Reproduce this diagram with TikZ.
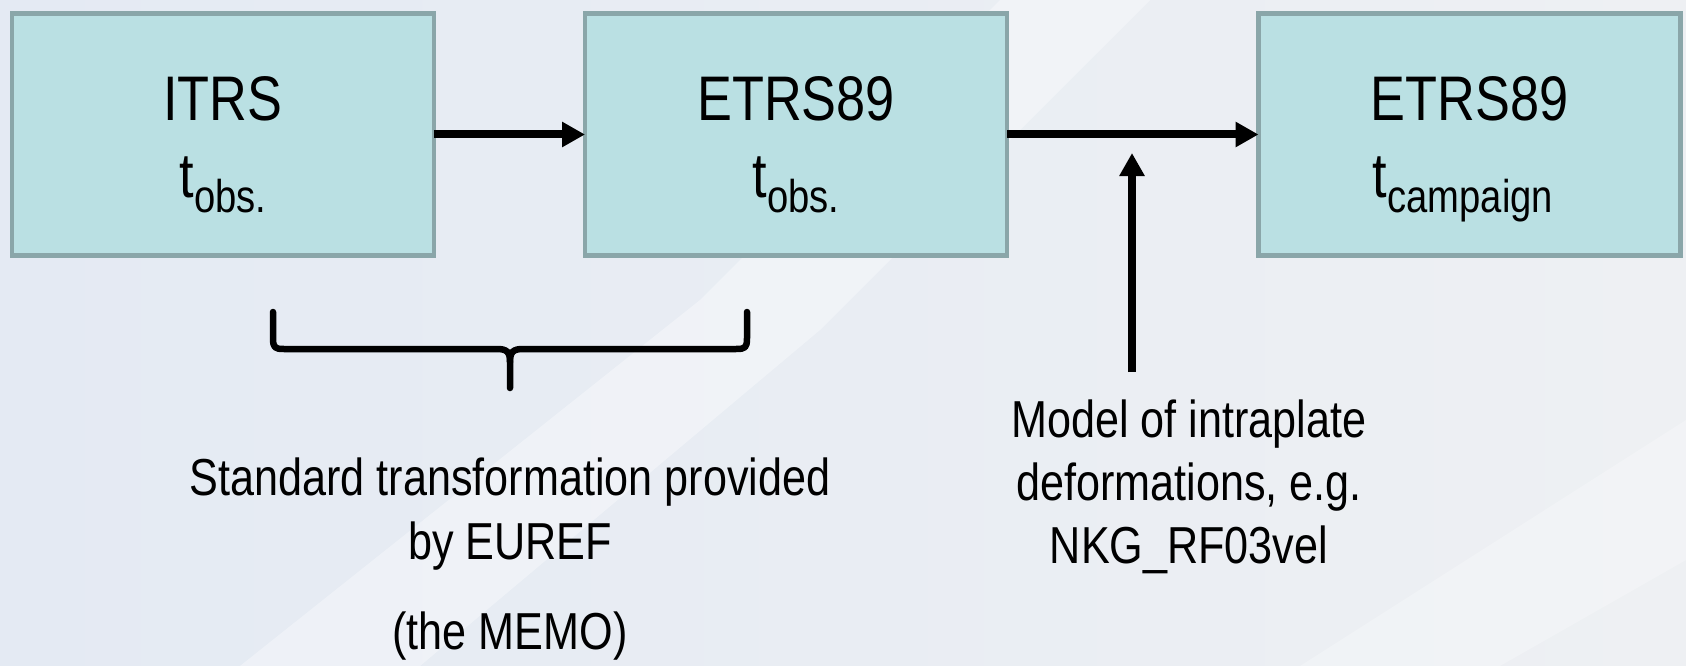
\documentclass[tikz,border=0pt]{standalone}
\usepackage{fontspec}
\setmainfont{Liberation Sans}[FakeStretch=0.83]
\usetikzlibrary{arrows.meta}
\definecolor{boxfill}{RGB}{186,224,227}
\definecolor{boxline}{RGB}{138,166,169}
\definecolor{bgleft}{RGB}{228,234,243}
\definecolor{bgright}{RGB}{238,240,243}
\newcommand{\lowtxt}[1]{\raisebox{-15pt}{\fontsize{46}{46}\selectfont #1}}
\tikzset{
  refbox/.style={draw=boxline, line width=4.5pt, fill=boxfill, minimum width=422pt, minimum height=242pt, inner sep=0pt, outer sep=0pt},
  boxtxt/.style={anchor=base, inner sep=0pt, font=\fontsize{63}{76}\selectfont},
  lowtext/.style={anchor=base, inner sep=0pt, font=\fontsize{52}{63}\selectfont},
  flow/.style={line width=8pt, -{Triangle[length=23pt,width=24pt]}},
  bracepath/.style={line width=6.5pt, line cap=round, line join=round}
}
\begin{document}
\begin{tikzpicture}[x=1pt,y=-1pt]
\useasboundingbox (0,0) rectangle (1686,666);
% background
\shade[left color=bgleft, right color=bgright] (0,0) rectangle (1686,666);
\fill[white, opacity=0.35] (240,666) -- (700,300) -- (1000,0) -- (1150,0) -- (820,330) -- (420,666) -- cycle;
\fill[white, opacity=0.25] (1300,666) -- (1686,420) -- (1686,560) -- (1500,666) -- cycle;

% boxes
\node[refbox] (itrs) at (223,134.5) {};
\node[refbox] (etrs) at (796,134.5) {};
\node[refbox] (etrsc) at (1469.5,134.5) {};

\node[boxtxt] (itrs1) at (223,121) {ITRS};
\node[boxtxt] (itrs2) at (223,197) {t\lowtxt{obs.}};
\node[boxtxt] (etrs1) at (796,121) {ETRS89};
\node[boxtxt] (etrs2) at (796,197) {t\lowtxt{obs.}};
\node[boxtxt] (etrsc1) at (1469.5,121) {ETRS89};
\node[boxtxt] (etrsc2) at (1463,197) {t\lowtxt{campaign}};

% arrows
\draw[flow] (itrs.east) -- (etrs.west);
\draw[flow] (etrs.east) -- (etrsc.west);

\coordinate (mbot) at (1132,372);
\coordinate (mtip) at (1132,153);
\draw[flow] (mbot) -- (mtip);

% brace
\draw[bracepath] (273,312) -- (273,338) .. controls (273,348) and (275,349) .. (284,349)
  -- (497,349) .. controls (507,349) and (510,352) .. (510,362) -- (510,388);
\draw[bracepath] (747,312) -- (747,338) .. controls (747,348) and (745,349) .. (736,349)
  -- (523,349) .. controls (513,349) and (510,352) .. (510,362);

% texts
\node[lowtext] (std1) at (510,495) {Standard transformation provided};
\node[lowtext] (std2) at (510,559) {by EUREF};
\node[lowtext] (std3) at (510,649) {(the MEMO)};

\node[lowtext] (mod1) at (1189,437) {Model of intraplate};
\node[lowtext] (mod2) at (1189,500) {deformations, e.g.};
\node[lowtext] (mod3) at (1189,563) {NKG\_RF03vel};
\end{tikzpicture}
\end{document}
